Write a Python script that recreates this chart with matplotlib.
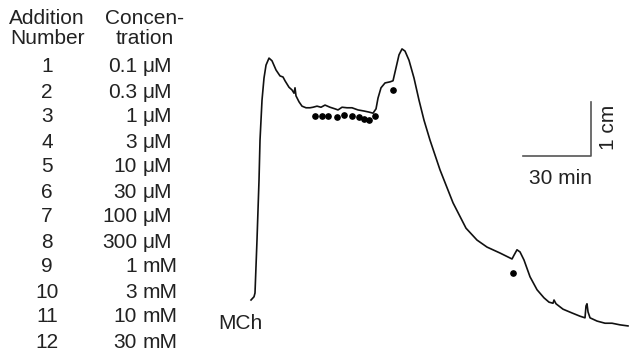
import matplotlib
matplotlib.use("Agg")
import matplotlib.pyplot as plt

plt.rcParams["font.family"] = ["Liberation Sans", "DejaVu Sans"]

# addition table
addition_numbers = [str(i) for i in range(1, 13)]
conc_values = ["0.1", "0.3", "1", "3", "10", "30", "100", "300", "1", "3", "10", "30"]
conc_units = ["μM"] * 8 + ["mM"] * 4

# contraction trace: time (min) vs tension (cm)
trace_t = [-0.44, 0.88, 1.32, 2.2, 3.09, 3.53, 4.41, 5.29, 6.18, 7.5, 8.82,
           10.59, 12.35, 13.68, 14.56, 16.32, 17.65, 18.53, 18.97, 19.41,
           20.74, 22.06, 23.82, 25.59, 26.91, 28.68, 30.44, 32.21, 34.41,
           36.62, 37.94, 39.71, 41.91, 44.12, 46.76, 49.41, 51.62, 53.38,
           54.71, 55.59, 56.91, 58.68, 60.88, 62.21, 63.53, 64.85, 66.18,
           67.5, 69.26, 71.47, 73.68, 75.88, 78.53, 82.94, 88.68, 94.41,
           99.26, 103.68, 109.41, 114.71, 115.59, 116.91, 118.24,
           120.0, 122.65, 125.74, 128.82, 131.03, 132.79, 133.24, 134.12,
           137.21, 141.18, 144.71, 146.91, 147.35, 147.79, 148.24, 149.12,
           152.21, 155.74, 158.82, 162.35, 165.88]
trace_h = [0.0, 0.06, 0.13, 1.11, 2.22, 2.96, 3.70, 4.11, 4.35, 4.48, 4.43,
           4.26, 4.15, 4.13, 4.06, 3.94, 3.89, 3.83, 3.93, 3.78,
           3.67, 3.59, 3.56, 3.56, 3.57, 3.59, 3.57, 3.61, 3.57,
           3.54, 3.52, 3.57, 3.56, 3.56, 3.52, 3.50, 3.48, 3.46,
           3.54, 3.74, 3.93, 4.02, 4.04, 4.06, 4.30, 4.54, 4.65,
           4.61, 4.44, 4.11, 3.70, 3.33, 2.96, 2.41, 1.80, 1.33,
           1.11, 0.98, 0.87, 0.76, 0.83, 0.93, 0.89,
           0.74, 0.43, 0.19, 0.04, -0.04, -0.06, 0.0, -0.07,
           -0.17, -0.24, -0.30, -0.33, -0.11, -0.07, -0.22, -0.33,
           -0.39, -0.43, -0.43, -0.46, -0.48]

# addition markers
dot_t = [27.79, 30.88, 33.53, 37.5, 40.59, 44.12, 47.21, 49.41, 51.62,
         54.26, 62.21, 115.15]
dot_h = [3.41, 3.41, 3.41, 3.39, 3.43, 3.41, 3.39, 3.35, 3.33, 3.41,
         3.89, 0.5]

W, H = 630, 356
fig = plt.figure(figsize=(W / 100, H / 100), dpi=100)
ax = fig.add_axes([0, 0, 1, 1])
ax.set_xlim(-111.18, 166.76)
ax.set_ylim(-1.037, 5.556)
ax.axis("off")

ax.plot(trace_t, trace_h, color="#111111", lw=1.2, solid_joinstyle="round")
ax.plot(dot_t, dot_h, "o", color="black", ms=3.8)

fs = 15
tc = "#222222"

# scale bar
bar_t0, bar_h0 = 119.5, 2.67
ax.plot([bar_t0, bar_t0 + 30, bar_t0 + 30], [bar_h0, bar_h0, bar_h0 + 1],
        color="#555555", lw=1.2)
ax.text(bar_t0 + 16.5, bar_h0 - 0.42, "30 min", ha="center", va="center",
        fontsize=fs, color=tc)
ax.text(bar_t0 + 37.6, bar_h0 + 0.52, "1 cm", ha="center", va="center",
        rotation=90, fontsize=fs, color=tc)
ax.text(-5.3, -0.44, "MCh", ha="center", va="center", fontsize=fs, color=tc)


def px(x, y):
    return x / W, 1 - y / H


for label, yy in [("Addition", 19), ("Number", 38)]:
    fig.text(*px(47, yy), label, ha="center", va="center", fontsize=fs, color=tc)
for label, yy in [("Concen-", 19), ("tration", 38)]:
    fig.text(*px(145, yy), label, ha="center", va="center", fontsize=fs, color=tc)

for i, (n, v, u) in enumerate(zip(addition_numbers, conc_values, conc_units)):
    yy = 67 + 25 * i
    fig.text(*px(47, yy), n, ha="center", va="center", fontsize=fs, color=tc)
    fig.text(*px(137, yy), v, ha="right", va="center", fontsize=fs, color=tc)
    fig.text(*px(143, yy), u, ha="left", va="center", fontsize=fs, color=tc)

fig.savefig("out.png", dpi=100)
